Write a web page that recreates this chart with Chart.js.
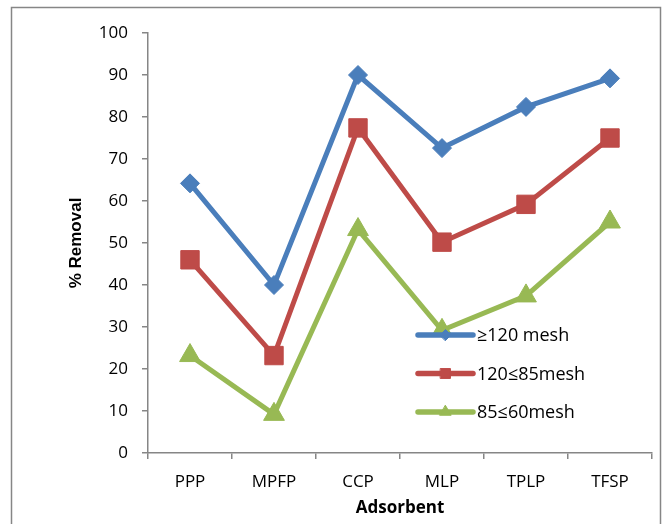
<!DOCTYPE html>
<html>
<head>
<meta charset="utf-8">
<script src="https://cdn.jsdelivr.net/npm/chart.js@4.4.1/dist/chart.umd.min.js"></script>
<style>
  html, body { margin: 0; padding: 0; background: #fff; }
  #wrap { width: 668px; height: 524px; }
</style>
</head>
<body>
<div id="wrap"><canvas id="chart" width="668" height="524"></canvas></div>
<script>
// data
const adsorbents = ['PPP', 'MPFP', 'CCP', 'MLP', 'TPLP', 'TFSP'];
const mesh120 = [64.2, 40, 90, 72.6, 82.4, 89.2];
const mesh120to85 = [46, 23.2, 77.4, 50.2, 59.2, 75];
const mesh85to60 = [23.2, 9.2, 53.2, 29.2, 37.4, 55];
const seriesNames = ['\u2265120 mesh', '120\u226485mesh', '85\u226460mesh'];
const yTicks = [0, 10, 20, 30, 40, 50, 60, 70, 80, 90, 100];

const BLUE = '#4a7ebb', RED = '#be4b48', GREEN = '#98b954';
const AXIS = '#868686';
const FONT = '"Open Sans", "Noto Sans", sans-serif';

// outer frame like the office chart border
const framePlugin = {
  id: 'frame',
  beforeDraw(chart) {
    const ctx = chart.ctx;
    ctx.save();
    ctx.fillStyle = '#fff';
    ctx.fillRect(0, 0, chart.width, chart.height);
    ctx.strokeStyle = AXIS;
    ctx.lineWidth = 1.5;
    ctx.strokeRect(11.5, 7.5, 649, 540);
    ctx.restore();
  }
};

// legend sits inside the plot, lower right
const insideLegend = {
  id: 'insideLegend',
  afterDatasetsDraw(chart) {
    const ctx = chart.ctx;
    const area = chart.chartArea;
    const x0 = area.left + 270;
    const len = 55;
    chart.data.datasets.forEach((ds, i) => {
      const y = area.top + 302 + i * 38.5;
      ctx.save();
      ctx.strokeStyle = ds.borderColor;
      ctx.lineWidth = 5.5;
      ctx.lineCap = 'round';
      ctx.beginPath();
      ctx.moveTo(x0, y);
      ctx.lineTo(x0 + len, y);
      ctx.stroke();
      ctx.fillStyle = ds.borderColor;
      ctx.strokeStyle = ds.borderColor;
      ctx.lineWidth = 1;
      Chart.helpers.drawPoint(ctx, {pointStyle: ds.pointStyle, radius: ds.legendRadius, borderWidth: 1}, x0 + len / 2, y);
      ctx.fillStyle = '#000';
      ctx.font = '18px ' + FONT;
      ctx.textBaseline = 'middle';
      ctx.textAlign = 'left';
      ctx.fillText(ds.label, x0 + len + 4, y + 1);
      ctx.restore();
    });
  }
};

function line(label, data, color, style, radius, legendRadius) {
  return {
    label: label,
    data: data,
    borderColor: color,
    backgroundColor: color,
    borderWidth: 5,
    pointStyle: style,
    pointRadius: radius,
    pointHoverRadius: radius,
    pointBorderWidth: 1,
    legendRadius: legendRadius,
    tension: 0
  };
}

new Chart(document.getElementById('chart'), {
  type: 'line',
  data: {
    labels: adsorbents,
    datasets: [
      line(seriesNames[0], mesh120, BLUE, 'rectRot', 9.5, 5.5),
      line(seriesNames[1], mesh120to85, RED, 'rect', 13, 7),
      line(seriesNames[2], mesh85to60, GREEN, 'triangle', 12, 6.5)
    ]
  },
  plugins: [framePlugin, insideLegend],
  options: {
    responsive: false,
    animation: false,
    layout: { padding: { top: 33, right: 16, bottom: 0, left: 0 } },
    plugins: {
      legend: { display: false },
      tooltip: { enabled: false }
    },
    scales: {
      x: {
        offset: true,
        grid: { offset: true, drawOnChartArea: false, drawTicks: true, tickLength: 6, color: AXIS, lineWidth: 1.5 },
        border: { display: true, color: AXIS, width: 1.5 },
        ticks: { color: '#000', font: { family: FONT, size: 17 }, padding: 13, maxRotation: 0 },
        title: { display: true, text: 'Adsorbent', color: '#000', font: { family: FONT, size: 17, weight: 'bold' }, padding: { top: 0, bottom: 6 } },
        afterFit(scale) { scale.height = 71; }
      },
      y: {
        min: 0,
        max: 100,
        afterBuildTicks(scale) { scale.ticks = yTicks.map(v => ({ value: v })); },
        grid: { drawOnChartArea: false, drawTicks: true, tickLength: 6, color: AXIS, lineWidth: 1.5 },
        border: { display: true, color: AXIS, width: 1.5 },
        ticks: { color: '#000', font: { family: FONT, size: 17 }, padding: 14 },
        title: { display: true, text: '% Removal', color: '#000', font: { family: '"Liberation Sans", Arial, sans-serif', size: 17, weight: 'bold' }, padding: { top: 66, bottom: 0 } },
        afterFit(scale) { scale.width = 148; }
      }
    }
  }
});
</script>
</body>
</html>
